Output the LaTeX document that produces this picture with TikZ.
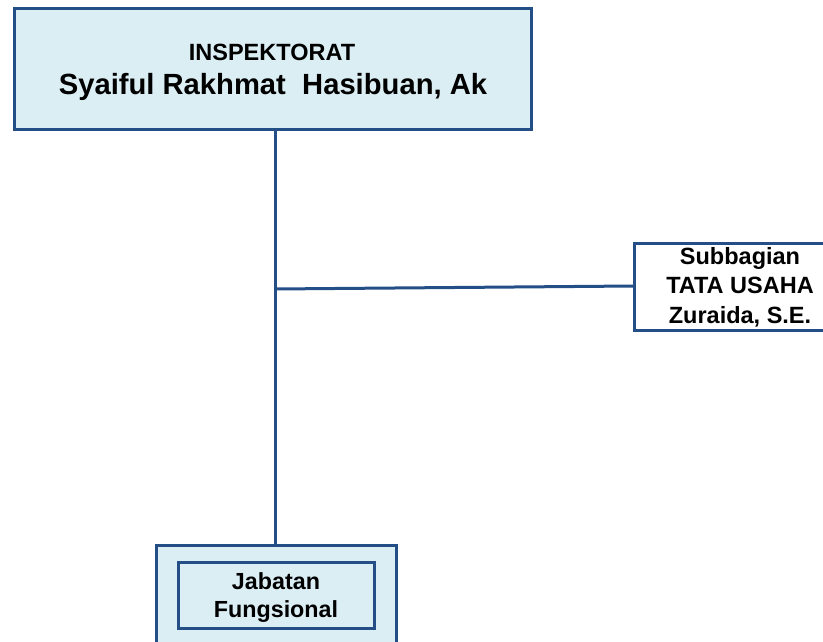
\documentclass[tikz,border=0pt]{standalone}
\usepackage{fontspec}
\setmainfont{Liberation Sans}
\definecolor{bordc}{HTML}{234E86}
\definecolor{fillc}{HTML}{DBEEF4}
\begin{document}
\begin{tikzpicture}[x=1pt,y=-1pt,
  box/.style={draw=bordc,line width=3pt},
  conn/.style={draw=bordc,line width=3pt},
  lbl/.style={font=\bfseries,align=center,inner sep=0pt}]
\useasboundingbox (0,0) rectangle (823,642);
\clip (0,0) rectangle (823,642);
% top box
\draw[box,fill=fillc] (14,9) rectangle (531,130);
\node[lbl,font=\bfseries\fontsize{23.5}{27}\selectfont] (t1) at (272,52) {INSPEKTORAT};
\node[lbl,font=\bfseries\fontsize{29.2}{32}\selectfont] (t2) at (273,87) {Syaiful Rakhmat\ \ Hasibuan, Ak};
% subbagian box
\draw[box,fill=white] (634,243) rectangle (826,330);
\coordinate (subW) at (634,286);
\node[lbl,font=\bfseries\fontsize{23.5}{29.5}\selectfont] (sub) at (740,287) {Subbagian\\TATA USAHA\\Zuraida, S.E.};
% bottom boxes
\draw[box,fill=fillc] (156,545) rectangle (396,660);
\draw[box,fill=fillc] (178,562) rectangle (374,628);
\node[lbl,font=\bfseries\fontsize{23.3}{28}\selectfont] (jab) at (276,598) {Jabatan\\Fungsional};
% connectors
\coordinate (topB) at (275,130);
\coordinate (botT) at (275,545);
\coordinate (junc) at (275,289);
\draw[conn] (topB) -- (botT);
\draw[conn] (junc) -- (subW);
\end{tikzpicture}
\end{document}
